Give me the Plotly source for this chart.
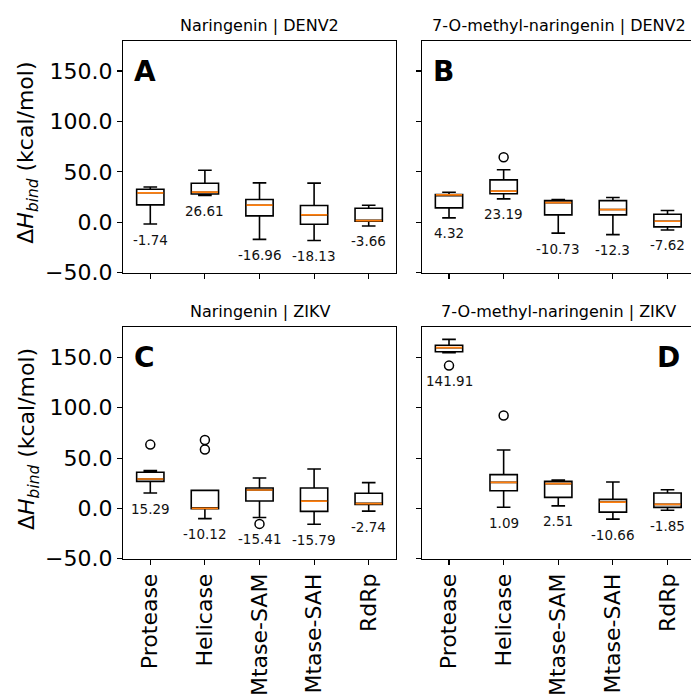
import plotly.graph_objects as go

# ---------------- data ----------------
categories = ["Protease", "Helicase", "Mtase-SAM", "Mtase-SAH", "RdRp"]
positions = [1, 2, 3, 4, 5]
y_ticks = [-50, 0, 50, 100, 150]

titles = ["Naringenin | DENV2", "7-O-methyl-naringenin | DENV2",
          "Naringenin | ZIKV", "7-O-methyl-naringenin | ZIKV"]
letters = ["A", "B", "C", "D"]

# Panel A : Naringenin | DENV2
a_q1 = [17.2, 28.0, 6.3, -2.0, 1.0]
a_med = [29.2, 29.8, 16.9, 7.3, 1.7]
a_q3 = [32.7, 38.7, 22.5, 16.6, 13.9]
a_lo = [-1.74, 26.61, -16.96, -18.13, -3.66]
a_hi = [35.0, 51.6, 39.1, 38.8, 16.9]
a_out = [[], [], [], [], []]
a_labels = ["-1.74", "26.61", "-16.96", "-18.13", "-3.66"]

# Panel B : 7-O-methyl-naringenin | DENV2
b_q1 = [14.3, 28.2, 7.3, 7.3, -4.6]
b_med = [27.2, 30.8, 19.5, 12.6, 1.0]
b_q3 = [27.4, 42.0, 21.5, 21.5, 7.9]
b_lo = [4.32, 23.19, -10.73, -12.3, -7.62]
b_hi = [29.8, 52.0, 22.5, 24.5, 11.6]
b_out = [[], [64.5], [], [], []]
b_labels = ["4.32", "23.19", "-10.73", "-12.3", "-7.62"]

# Panel C : Naringenin | ZIKV
c_q1 = [26.9, -0.4, 7.3, -3.0, 4.0]
c_med = [29.2, 0.0, 18.3, 7.3, 4.7]
c_q3 = [35.9, 17.9, 20.3, 20.3, 15.0]
c_lo = [15.29, -10.12, -9.0, -15.79, -2.74]
c_hi = [37.5, 17.9, 30.2, 39.2, 25.6]
c_out = [[63.4], [68.0, 58.5], [-15.41], [], []]
c_labels = ["15.29", "-10.12", "-15.41", "-15.79", "-2.74"]

# Panel D : 7-O-methyl-naringenin | ZIKV
d_q1 = [155.7, 17.6, 11.0, -3.7, 1.0]
d_med = [159.7, 25.9, 24.6, 6.3, 4.0]
d_q3 = [162.1, 33.6, 26.9, 9.0, 15.3]
d_lo = [154.7, 1.09, 2.51, -10.66, -1.85]
d_hi = [168.0, 58.1, 28.2, 26.2, 18.6]
d_out = [[141.91], [92.3], [], [], []]
d_labels = ["141.91", "1.09", "2.51", "-10.66", "-1.85"]

panels = [
    (a_q1, a_med, a_q3, a_lo, a_hi, a_out, a_labels),
    (b_q1, b_med, b_q3, b_lo, b_hi, b_out, b_labels),
    (c_q1, c_med, c_q3, c_lo, c_hi, c_out, c_labels),
    (d_q1, d_med, d_q3, d_lo, d_hi, d_out, d_labels),
]

# ---------------- layout geometry (pixels) ----------------
W, H = 691, 699
BOX_W = 0.5
col_px = [(123, 396), (421.7, 691)]
row_px = [(40.7, 272.7), (327.3, 558.7)]
x_ranges = [[0.5, 5.5], [0.5, 5.43]]
FONT = "DejaVu Sans"

fig = go.Figure()
annotations = []

for i, (q1, med, q3, lo, hi, outs, labels) in enumerate(panels):
    s = "" if i == 0 else str(i + 1)
    xa, ya = "x" + s, "y" + s
    fig.add_trace(go.Box(
        x=positions, q1=q1, median=med, q3=q3, lowerfence=lo, upperfence=hi,
        orientation="v", width=BOX_W, whiskerwidth=0.5, boxpoints=False,
        fillcolor="rgba(255,255,255,0)", line=dict(color="black", width=1.6),
        xaxis=xa, yaxis=ya, hoverinfo="skip", showlegend=False))
    # medians (orange)
    mx, my = [], []
    for p, m in zip(positions, med):
        mx += [p - BOX_W / 2 + 0.01, p + BOX_W / 2 - 0.01, None]
        my += [m, m, None]
    fig.add_trace(go.Scatter(x=mx, y=my, mode="lines",
                             line=dict(color="#ff7f0e", width=1.7),
                             xaxis=xa, yaxis=ya, hoverinfo="skip", showlegend=False))
    # outliers
    ox, oy = [], []
    for p, o in zip(positions, outs):
        ox += [p] * len(o)
        oy += o
    if ox:
        fig.add_trace(go.Scatter(x=ox, y=oy, mode="markers",
                                 marker=dict(symbol="circle-open", size=9,
                                             color="black", line=dict(width=1.5)),
                                 xaxis=xa, yaxis=ya, hoverinfo="skip", showlegend=False))
    # value labels
    for p, t in zip(positions, labels):
        annotations.append(dict(x=p, y=float(t), xref=xa, yref=ya, text=t,
                                showarrow=False, yanchor="middle", xanchor="center",
                                yshift=-15.5, font=dict(family=FONT, size=13.5, color="#111")))

    col, row = i % 2, i // 2
    x0, x1 = col_px[col]
    y0, y1 = row_px[row]
    xdom = [x0 / W, x1 / W]
    ydom = [1 - y1 / H, 1 - y0 / H]
    fig.layout["xaxis" + s] = dict(
        domain=xdom, anchor=ya, range=x_ranges[col], tickvals=positions,
        ticktext=categories, showticklabels=(row == 1), tickangle=-90,
        ticks="outside", ticklen=5, tickwidth=1.1, tickcolor="black",
        showline=True, linecolor="black", linewidth=1.1, mirror=True,
        showgrid=False, zeroline=False, automargin=False, fixedrange=True,
        tickfont=dict(family=FONT, size=22, color="black"))
    fig.layout["yaxis" + s] = dict(
        domain=ydom, anchor=xa, range=[-50, 180], tickvals=y_ticks,
        tickformat=".1f", showticklabels=(col == 0),
        ticks="outside", ticklen=5, tickwidth=1.1, tickcolor="black",
        showline=True, linecolor="black", linewidth=1.1, mirror=(col == 0),
        showgrid=False, zeroline=False, automargin=False, fixedrange=True,
        tickfont=dict(family=FONT, size=22, color="black"))

    # subplot title
    annotations.append(dict(x=(x0 + (x1 if col == 0 else 696)) / 2 / W,
                            y=1 - (y0 - 15.5) / H, xref="paper", yref="paper",
                            text=titles[i], showarrow=False, xanchor="center",
                            yanchor="middle", font=dict(family=FONT, size=16, color="black")))
    # panel letter
    if letters[i] == "D":
        lx, lanchor = 682 / W, "right"
    else:
        lx, lanchor = (x0 + 9) / W, "left"
    annotations.append(dict(x=lx, y=1 - (y0 + 30.5) / H, xref="paper", yref="paper",
                            text="<b>" + letters[i] + "</b>", showarrow=False,
                            xanchor=lanchor, yanchor="middle",
                            font=dict(family=FONT, size=28, color="black")))
    # y-axis title
    if col == 0:
        annotations.append(dict(x=28 / W, y=1 - ((y0 + y1) / 2 - 4) / H,
                                xref="paper", yref="paper",
                                text="Δ<i>H</i><sub><i>bind</i></sub> (kcal/mol)",
                                textangle=-90, showarrow=False, xanchor="center",
                                yanchor="middle",
                                font=dict(family=FONT, size=22, color="black")))

fig.update_layout(
    width=W, height=H, autosize=False, template="none",
    margin=dict(l=0, r=0, t=0, b=0),
    paper_bgcolor="white", plot_bgcolor="white",
    showlegend=False, annotations=annotations,
    font=dict(family=FONT, color="black"))

fig.write_html("out.html",
               config={"displayModeBar": False, "staticPlot": True},
               post_script="document.body.style.margin='0px';"
                           "document.body.style.overflow='hidden';")
